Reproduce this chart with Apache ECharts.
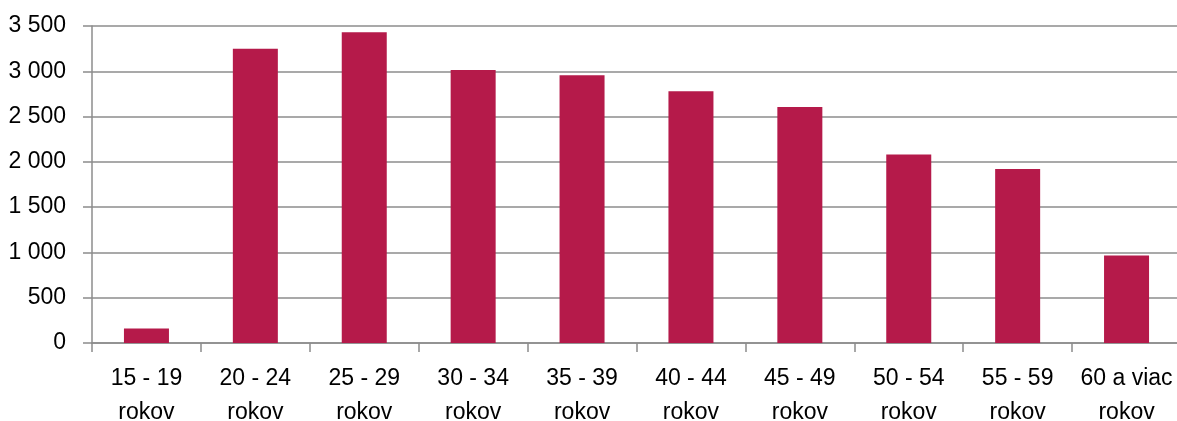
<!DOCTYPE html>
<html>
<head>
<meta charset="utf-8">
<script src="https://cdn.jsdelivr.net/npm/echarts@6/dist/echarts.min.js"></script>
<style>
  html, body { margin: 0; padding: 0; background: #fff; }
  #chart { width: 1177px; height: 421px; }
</style>
</head>
<body>
<div id="chart"></div>
<script>
// vekove skupiny
const categories = ['15 - 19\nrokov', '20 - 24\nrokov', '25 - 29\nrokov', '30 - 34\nrokov', '35 - 39\nrokov',
  '40 - 44\nrokov', '45 - 49\nrokov', '50 - 54\nrokov', '55 - 59\nrokov', '60 a viac\nrokov'];
const values = [160, 3250, 3430, 3015, 2955, 2780, 2605, 2080, 1920, 965];
const yTicks = [0, 500, 1000, 1500, 2000, 2500, 3000, 3500];

const gray = '#8c8c8c';
const font = '"Liberation Sans", Arial, sans-serif';

let myChart = echarts.init(document.getElementById('chart'));
let option = {
  animation: false,
  grid: { left: 92, top: 26, width: 1089, bottom: 78, containLabel: false, outerBoundsMode: 'none' },
  xAxis: {
    type: 'category',
    data: categories,
    axisLine: { lineStyle: { color: gray, width: 1.5 } },
    axisTick: { show: true, length: 9, lineStyle: { color: gray, width: 1.5 } },
    axisLabel: { color: '#000', fontFamily: font, fontSize: 23, lineHeight: 34, margin: 19, interval: 0 }
  },
  yAxis: {
    type: 'value',
    min: yTicks[0],
    max: yTicks[yTicks.length - 1],
    interval: 500,
    axisLine: { show: true, lineStyle: { color: gray, width: 1.5 } },
    axisTick: { show: true, length: 9, lineStyle: { color: gray, width: 1.5 } },
    splitLine: { lineStyle: { color: gray, width: 1.5 } },
    axisLabel: {
      color: '#000', fontFamily: font, fontSize: 23, margin: 26,
      formatter: v => String(v).replace(/\B(?=(\d{3})+(?!\d))/g, ' ')
    }
  },
  series: [{
    type: 'bar',
    data: values,
    barWidth: 45,
    itemStyle: { color: '#B51A4A' }
  }]
};
myChart.setOption(option);
</script>
</body>
</html>
